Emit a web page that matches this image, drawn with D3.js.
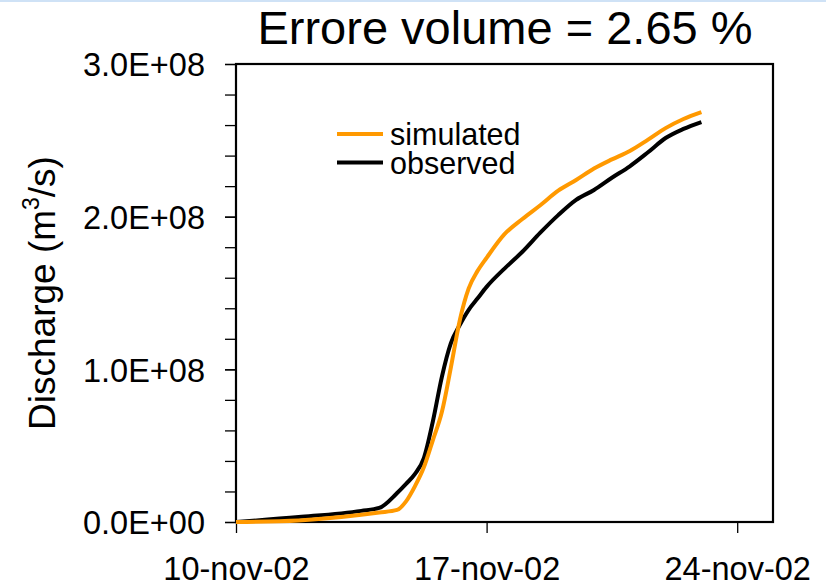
<!DOCTYPE html>
<html>
<head>
<meta charset="utf-8">
<script src="https://cdn.jsdelivr.net/npm/d3@7"></script>
<style>
    body { margin: 0; background: #fff; }
    svg text { font-family: "Liberation Sans", Arial, sans-serif; fill: #000; }
    .axis path, .axis line { stroke: #000; }
</style>
</head>
<body>
<div id="chart"></div>
<script>
// Days elapsed since 10-nov-02 00:00
const dayOffsets = [0, 1.75, 3.5, 4.0, 4.5, 4.75, 5.0, 5.25, 5.5, 5.75, 6.0, 6.25, 6.5, 6.75,
    7.0, 7.5, 8.0, 8.5, 9.0, 9.5, 10.0, 10.5, 11.0, 11.5, 12.0, 12.5, 13.0];

// Discharge, millions of m3/s
const simulated = [0, 1.0, 4.7, 6.2, 7.9, 13.5, 23.5, 36, 53.7, 72, 101, 132, 153, 164.5,
    173, 188.5, 198.5, 207.5, 217, 224, 231.5, 237.5, 243, 250.3, 258, 264, 268.5];
const observed = [0, 3.2, 7.3, 9.2, 19, 25, 31.5, 42, 66, 95, 117, 129, 139, 146.5,
    154, 166, 177, 189.5, 201, 211, 217.5, 225.5, 233, 242, 251.5, 257.5, 262];

const seriesNames = ['simulated', 'observed'];
const seriesColors = ['#ff9900', '#000000'];

const xTickLabels = ['10-nov-02', '17-nov-02', '24-nov-02'];
const yTickValues = [0, 1e8, 2e8, 3e8];
const yTickLabels = ['0.0E+00', '1.0E+08', '2.0E+08', '3.0E+08'];

const title = 'Errore volume = 2.65 %';

const width = 826, height = 587;
const plot = { left: 236, top: 64, right: 773, bottom: 522 };
const start = new Date(2002, 10, 10);

const toDate = d => new Date(start.getTime() + d * 864e5);

const svg = d3.select('#chart')
    .append('svg')
    .attr('width', width)
    .attr('height', height);

// light blue slide border at top
svg.append('rect')
    .attr('x', 0).attr('y', 0)
    .attr('width', width).attr('height', 2)
    .attr('fill', '#cfe2f6');

const x = d3.scaleTime()
    .domain([start, new Date(2002, 10, 25)])
    .range([plot.left, plot.right]);

const y = d3.scaleLinear()
    .domain([0, 3e8])
    .range([plot.bottom, plot.top]);

// Minor y ticks
svg.append('g')
    .attr('class', 'axis')
    .attr('transform', `translate(${plot.left},0)`)
    .call(d3.axisLeft(y).tickValues(d3.range(0, 3e8 + 1, 2e7)).tickSize(11).tickFormat(''))
    .call(g => g.select('.domain').remove())
    .selectAll('line').attr('stroke-width', 1.3);

// Major y ticks with labels
const yAxis = svg.append('g')
    .attr('class', 'axis')
    .attr('transform', `translate(${plot.left},0)`)
    .call(d3.axisLeft(y)
        .tickValues(yTickValues)
        .tickSize(11)
        .tickPadding(20)
        .tickFormat((d, i) => yTickLabels[i]));
yAxis.select('.domain').remove();
yAxis.selectAll('line').attr('stroke-width', 1.3);
yAxis.selectAll('text').attr('font-size', 32.5).attr('dy', '0.36em');

// X axis
const xTickDates = xTickLabels.map((t, i) => d3.timeDay.offset(start, i * 7));
const xAxis = svg.append('g')
    .attr('class', 'axis')
    .attr('transform', `translate(0,${plot.bottom})`)
    .call(d3.axisBottom(x)
        .tickValues(xTickDates)
        .tickSize(11)
        .tickPadding(24)
        .tickFormat((d, i) => xTickLabels[i]));
xAxis.select('.domain').remove();
xAxis.selectAll('line').attr('stroke-width', 1.3);
xAxis.selectAll('text').attr('font-size', 32.5);

// Plot frame
svg.append('rect')
    .attr('x', plot.left)
    .attr('y', plot.top)
    .attr('width', plot.right - plot.left)
    .attr('height', plot.bottom - plot.top)
    .attr('fill', 'none')
    .attr('stroke', '#000')
    .attr('stroke-width', 2.2);

// Lines
const line = d3.line()
    .x(d => x(toDate(d[0])))
    .y(d => y(d[1] * 1e6))
    .curve(d3.curveMonotoneX);

[observed, simulated].forEach((vals, k) => {
    const idx = k === 0 ? 1 : 0;
    svg.append('path')
        .datum(dayOffsets.map((d, i) => [d, vals[i]]))
        .attr('fill', 'none')
        .attr('stroke', seriesColors[idx])
        .attr('stroke-width', 4)
        .attr('stroke-linejoin', 'round')
        .attr('d', line);
});

// Legend
const legend = svg.append('g')
    .attr('transform', 'translate(337,134)');

seriesNames.forEach((name, i) => {
    legend.append('line')
        .attr('x1', 0).attr('x2', 46)
        .attr('y1', i * 28.5).attr('y2', i * 28.5)
        .attr('stroke', seriesColors[i])
        .attr('stroke-width', 4);
    legend.append('text')
        .attr('x', 53)
        .attr('y', i * 28.5 + 11)
        .attr('font-size', 30.5)
        .text(name);
});

// Title
svg.append('text')
    .attr('x', 505)
    .attr('y', 44)
    .attr('text-anchor', 'middle')
    .attr('font-size', 47)
    .text(title);

// Y axis title
const yTitle = svg.append('text')
    .attr('transform', `translate(55,${(plot.top + plot.bottom) / 2}) rotate(-90)`)
    .attr('text-anchor', 'middle')
    .attr('font-size', 37);
yTitle.append('tspan').text('Discharge (m');
yTitle.append('tspan').attr('font-size', 23).attr('dy', -16).text('3');
yTitle.append('tspan').attr('dy', 16).text('/s)');
</script>
</body>
</html>
